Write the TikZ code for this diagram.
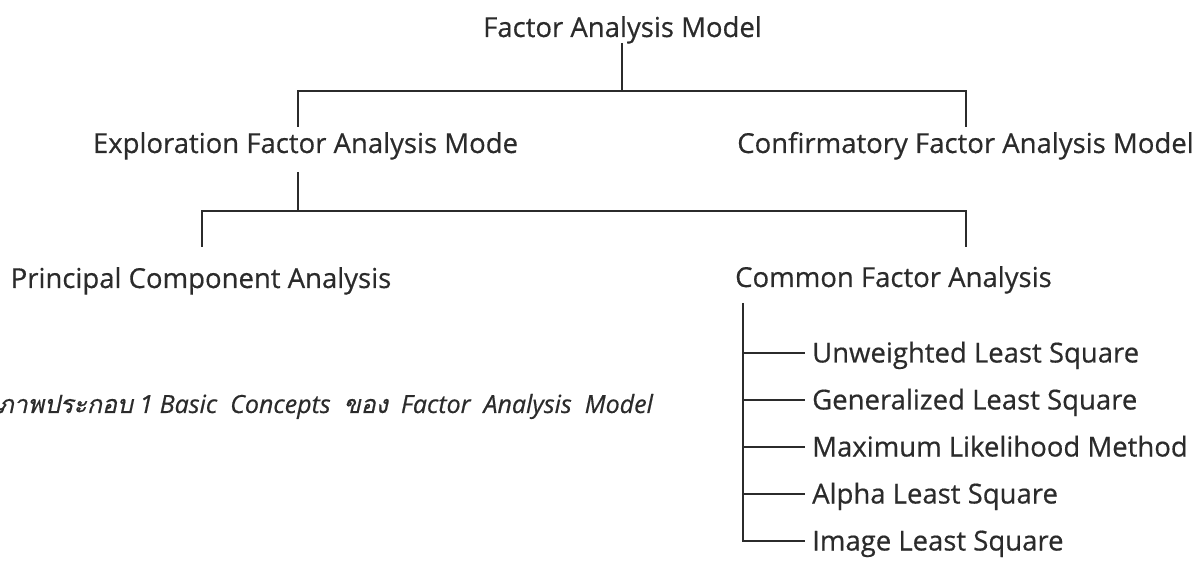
\documentclass[tikz,border=0pt]{standalone}
\usepackage{fontspec}
\setmainfont{Open Sans}[FakeBold=0.5]
\newfontfamily\thaifont[Script=Thai,FakeBold=0.5]{Loma}
\definecolor{ink}{HTML}{2B2B2B}
\begin{document}
\begin{tikzpicture}[x=1pt,y=-1pt,
  lbl/.style={inner sep=0pt,text=ink,font=\fontsize{27.5}{32}\selectfont},
  captxt/.style={inner sep=0pt,text=ink,font=\fontsize{25}{30}\selectfont\itshape},
  ln/.style={draw=ink,line width=1.4pt}]
\useasboundingbox (0,0) rectangle (1200,561);
\node[lbl,anchor=base] (fam) at (622.5,37) {Factor Analysis Model};
\node[lbl,anchor=base] (efa) at (305.5,153) {Exploration Factor Analysis Mode};
\node[lbl,anchor=base] (cfa) at (965.5,153) {Confirmatory Factor Analysis Model};
\node[lbl,anchor=base] (pca) at (201,288) {Principal Component Analysis};
\node[lbl,anchor=base west] (cfan) at (735,287) {Common Factor Analysis};
\node[lbl,anchor=base west] (uls) at (812,362.5) {Unweighted Least Square};
\node[lbl,anchor=base west] (gls) at (812,409.5) {Generalized Least Square};
\node[lbl,anchor=base west] (mlm) at (812,456.5) {Maximum Likelihood Method};
\node[lbl,anchor=base west] (als) at (812,503.5) {Alpha Least Square};
\node[lbl,anchor=base west] (ils) at (812,550.5) {Image Least Square};
\node[captxt,anchor=base west] (caption) at (-3,413) {{\thaifont ภาพประกอบ} 1 Basic\ \ Concepts\ \ {\thaifont ของ}\ \ Factor\ \ Analysis\ \ Model};
% level 1
\coordinate (j1) at (622,91);
\draw[ln] (622,43) -- (j1);
\draw[ln] (298,127) -- (298,91) -- (966,91) -- (966,127);
% level 2
\draw[ln] (298,172) -- (298,211);
\draw[ln] (202,247) -- (202,211) -- (966,211) -- (966,247);
% level 3
\draw[ln] (743,303) -- (743,541) -- (805,541);
\foreach \yy in {353,400,447,494}
  \draw[ln] (743,\yy) -- (805,\yy);
\end{tikzpicture}
\end{document}
